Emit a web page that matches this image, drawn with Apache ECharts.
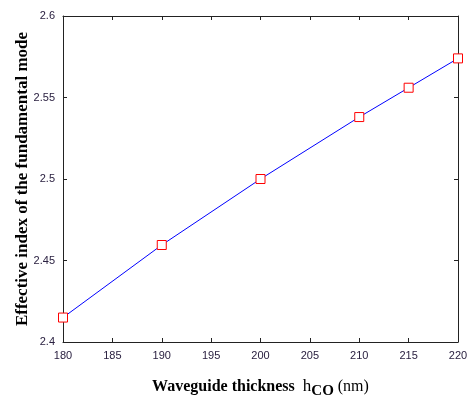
<!DOCTYPE html>
<html lang="en">
<head>
	<meta charset="UTF-8">
	<title>Effective index</title>
	<script src="https://cdn.jsdelivr.net/npm/echarts@6/dist/echarts.min.js"></script>
	<style>
		html,body{margin:0;padding:0;width:100%;height:100%;background:#fff;}
		#chart{width:469px;height:397px;}
	</style>
</head>
<body>
	<div id="chart"></div>
<script>
	// waveguide thickness (nm) and effective index
	var thickness = [180, 190, 200, 210, 215, 220];
	var effIndex = [2.415, 2.4595, 2.500, 2.538, 2.556, 2.574];

	var points = [];
	for (var i = 0; i < thickness.length; i++) {
		points.push([thickness[i], effIndex[i]]);
	}

	var labelStyle = {color: '#2a2040', fontFamily: 'Liberation Sans', fontSize: 11};
	var lineStyle = {lineStyle: {color: '#222', width: 1}};
	var tick = {show: true, inside: true, length: 4, lineStyle: {color: '#222'}};

	var myChart = echarts.init(document.getElementById('chart'));
	myChart.setOption({
		animation: false,
		grid: {left: 63, right: 11, top: 16, bottom: 55, containLabel: false, outerBoundsMode: 'none'},
		xAxis: [{
			type: 'value', min: 180, max: 220, interval: 5,
			axisLine: lineStyle, axisTick: tick,
			axisLabel: labelStyle,
			splitLine: {show: false},
			name: '{t|Waveguide thickness  }{h|h}{s|CO}{n| (nm)}',
			nameLocation: 'middle', nameGap: 33, nameMoveOverlap: false,
			nameTextStyle: {
				rich: {
					t: {fontFamily: 'Liberation Serif', fontWeight: 'bold', fontSize: 16, color: '#000'},
					h: {fontFamily: 'Liberation Serif', fontSize: 17, color: '#000'},
					s: {fontFamily: 'Liberation Serif', fontWeight: 'bold', fontSize: 15, color: '#000', padding: [9, 0, 0, 0]},
					n: {fontFamily: 'Liberation Serif', fontSize: 16, color: '#000'}
				}
			}
		}, {
			type: 'value', position: 'top', min: 180, max: 220, interval: 5,
			axisLine: lineStyle, axisTick: tick,
			axisLabel: {show: false}, splitLine: {show: false}
		}],
		yAxis: [{
			type: 'value', min: 2.4, max: 2.6, interval: 0.05,
			axisLine: lineStyle, axisTick: tick,
			axisLabel: labelStyle,
			splitLine: {show: false},
			name: 'Effective index of the fundamental mode',
			nameLocation: 'middle', nameGap: 32, nameMoveOverlap: false,
			nameTextStyle: {fontFamily: 'Liberation Serif', fontWeight: 'bold', fontSize: 17, color: '#000'}
		}, {
			type: 'value', position: 'right', min: 2.4, max: 2.6, interval: 0.05,
			axisLine: lineStyle, axisTick: tick,
			axisLabel: {show: false}, splitLine: {show: false}
		}],
		series: [{
			type: 'line',
			data: points,
			symbol: 'rect',
			symbolSize: 9,
			lineStyle: {color: '#0000ff', width: 1},
			itemStyle: {color: '#fff', borderColor: '#ff0000', borderWidth: 1},
			z: 3
		}]
	});
</script>
</body>
</html>
